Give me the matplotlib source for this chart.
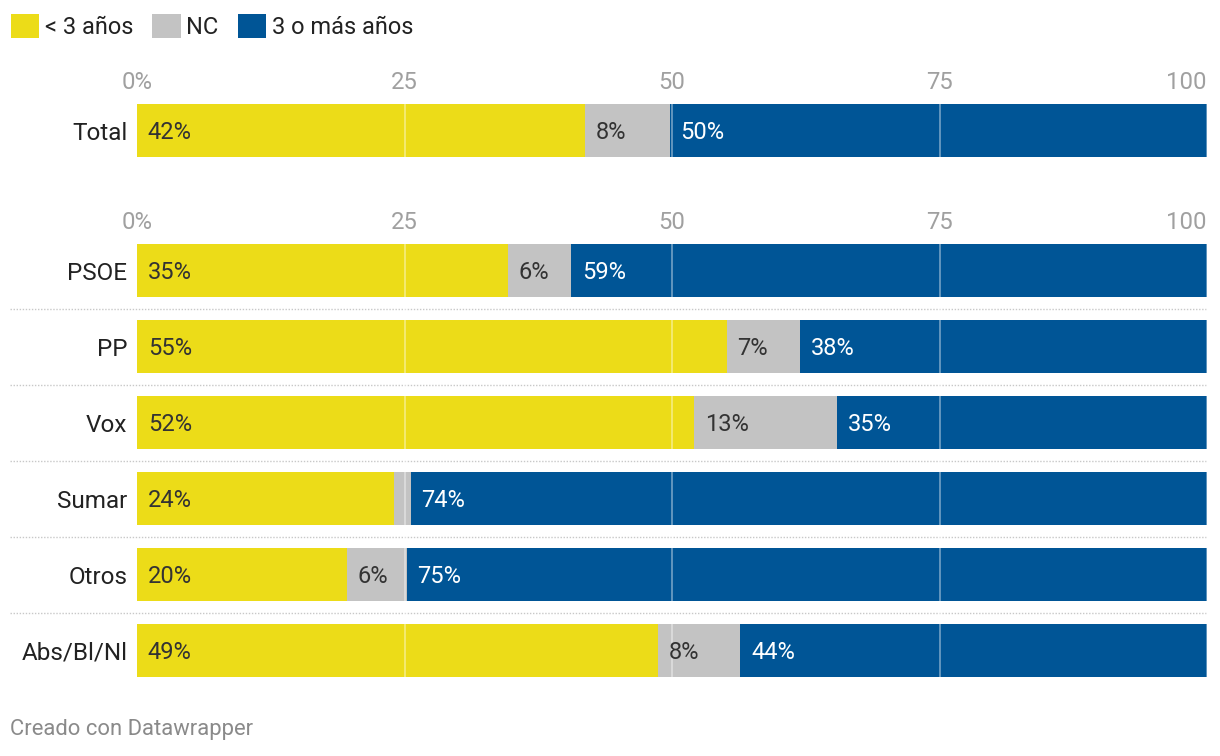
import matplotlib.pyplot as plt
from matplotlib.patches import Patch

plt.rcParams['font.family'] = ['Roboto', 'DejaVu Sans']

# datos (porcentajes)
series = ['< 3 años', 'NC', '3 o más años']
colors = ['#ecdc18', '#c3c3c3', '#005596']
text_colors = ['#333333', '#333333', '#ffffff']

total_label = 'Total'
total_vals = [41.9, 7.9, 50.2]

partidos = ['PSOE', 'PP', 'Vox', 'Sumar', 'Otros', 'Abs/Bl/Nl']
menos3 = [34.7, 55.1, 52.1, 24.0, 19.6, 48.7]
nc = [5.9, 6.9, 13.3, 1.6, 5.6, 7.7]
mas3 = [59.4, 38.0, 34.6, 74.4, 74.8, 43.6]

ticks = [0, 25, 50, 75, 100]
tick_labels = ['0%', '25', '50', '75', '100']

W, H = 1220, 756
fig = plt.figure(figsize=(W / 100, H / 100), dpi=100)

row = 76  # px por fila
x0, x1 = 137, 1207


def make_ax(top_px, nrows):
    return fig.add_axes([x0 / W, 1 - (top_px + nrows * row) / H,
                         (x1 - x0) / W, nrows * row / H])


def draw(ax, labels, rows):
    n = len(labels)
    for i, vals in enumerate(rows):
        left = 0
        for v, c, tc in zip(vals, colors, text_colors):
            ax.barh(i, v, left=left, height=53 / row, color=c, lw=0, zorder=2)
            if v >= 3:
                ax.annotate(f'{round(v)}%', (left + 1.0, i), xytext=(0, -1.2),
                            textcoords='offset points', ha='left', va='center',
                            color=tc, fontsize=17, zorder=4)
            left += v
    for t in ticks[1:]:
        ax.axvline(t, color='white', alpha=0.45, lw=1.2, zorder=3, clip_on=False)
    ax.set_xlim(0, 100)
    ax.set_ylim(n - 0.5, -0.5)
    ax.xaxis.tick_top()
    ax.set_xticks(ticks)
    ax.set_xticklabels(tick_labels)
    ax.tick_params(axis='x', length=0, pad=-1.2, labelsize=17.2, labelcolor='#a0a0a0')
    ax.xaxis.get_major_ticks()[-1].label2.set_horizontalalignment('right')
    ax.set_yticks(range(n))
    ax.set_yticklabels(labels)
    ax.tick_params(axis='y', length=0, pad=7, labelsize=17.5, labelcolor='#222222')
    for s in ax.spines.values():
        s.set_visible(False)
    for i in range(n - 1):
        ax.plot([-11.9, 100], [i + 0.5, i + 0.5], color='#c8c8c8', lw=1,
                ls=(0, (1, 1.2)), clip_on=False, zorder=1)


ax1 = make_ax(130.5 - row / 2, 1)
draw(ax1, [total_label], [total_vals])

ax2 = make_ax(270.5 - row / 2, len(partidos))
draw(ax2, partidos, list(zip(menos3, nc, mas3)))

handles = [Patch(facecolor=c, edgecolor='none') for c in colors]
fig.legend(handles, series, loc='upper left', bbox_to_anchor=(6 / W, 1 - 9 / H),
           ncol=3, frameon=False, fontsize=17, handlelength=1.2, handleheight=1.2,
           handletextpad=0.25, columnspacing=0.8, borderaxespad=0, borderpad=0.2,
           labelcolor='#222222')

fig.text(10 / W, 1 - 730 / H, 'Creado con Datawrapper', color='#8a8a8a',
         fontsize=15.8, ha='left', va='center')

fig.savefig('out.png', dpi=100)
